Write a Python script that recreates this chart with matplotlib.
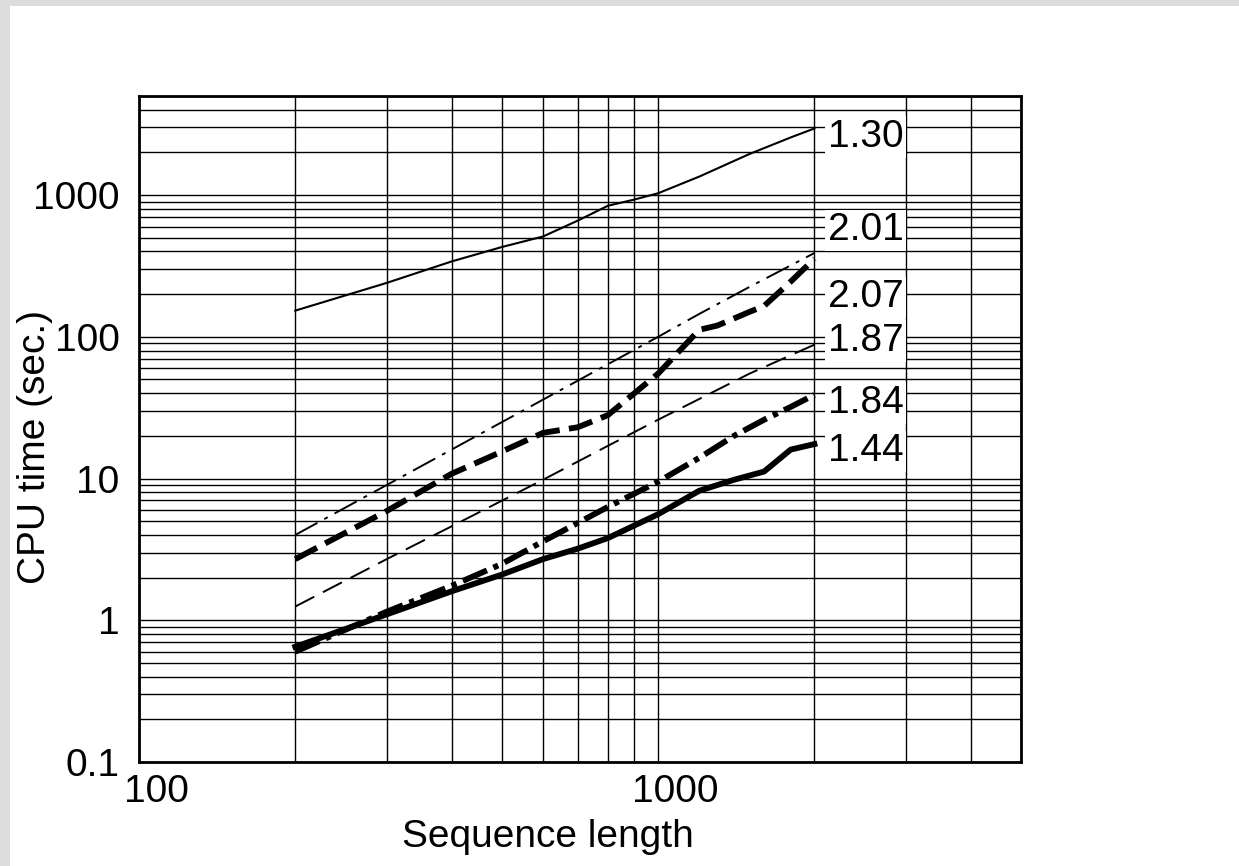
import matplotlib
matplotlib.use("Agg")
import matplotlib.pyplot as plt
from matplotlib.patches import Rectangle
from matplotlib.transforms import ScaledTranslation

plt.rcParams['font.family'] = ['Liberation Sans', 'DejaVu Sans']

# series (sequence length -> CPU time in sec.)
x_130 = [200, 300, 400, 500, 600, 700, 800, 900, 1000, 1200, 1500, 1800, 2000]
y_130 = [153, 240, 340, 430, 510, 660, 840, 930, 1030, 1350, 1950, 2550, 2950]

x_201 = [200, 300, 400, 600, 800, 1000, 1200, 1500, 2000]
y_201 = [4.0, 9.0, 16, 36, 64, 100, 145, 225, 390]

x_207 = [200, 300, 400, 500, 600, 700, 800, 1000, 1200, 1300, 1500, 1600, 1800, 2000]
y_207 = [2.7, 5.9, 10.8, 15.5, 21, 23, 28, 55, 112, 120, 150, 165, 245, 355]

x_187 = [200, 300, 400, 600, 800, 1000, 1500, 2000]
y_187 = [1.25, 2.7, 4.6, 9.8, 17, 26, 55, 88]

x_184 = [200, 300, 400, 500, 600, 800, 1000, 1200, 1400, 1600, 1800, 2000]
y_184 = [0.6, 1.15, 1.75, 2.5, 3.6, 6.3, 9.5, 14, 20, 26, 32, 39]

x_144 = [200, 300, 400, 500, 600, 700, 800, 1000, 1200, 1400, 1600, 1800, 2000]
y_144 = [0.65, 1.1, 1.6, 2.1, 2.7, 3.2, 3.8, 5.6, 8.2, 9.8, 11.2, 16, 17.5]

slopes = ["1.30", "2.01", "2.07", "1.87", "1.84", "1.44"]
label_y = [2190, 480, 161, 79.6, 28.9, 13.2]   # baselines of slope labels

x_ticks = [100, 1000]
x_ticklabels = ["100", "1000"]
y_ticks = [0.1, 1, 10, 100, 1000]
y_ticklabels = ["0.1", "1", "10", "100", "1000"]

fig = plt.figure(figsize=(12.39, 8.66), dpi=100, facecolor='#dcdcdc')
fig.add_artist(Rectangle((10 / 1239, 0), 1, (866 - 6) / 866, transform=fig.transFigure,
                         facecolor='white', edgecolor='none', zorder=-10))

ax = fig.add_axes([139 / 1239, 104 / 866, 882 / 1239, 666 / 866])
ax.set_xscale('log')
ax.set_yscale('log')
ax.set_xlim(100, 5000)
ax.set_ylim(0.1, 5000)

ax.grid(True, which='both', color='black', lw=1.0)
ax.set_axisbelow(True)

ax.plot(x_130, y_130, color='black', lw=1.5, solid_joinstyle='round')
ax.plot(x_201, y_201, color='black', lw=1.4, linestyle=(0, (13, 4, 2, 4)))
ax.plot(x_207, y_207, color='black', lw=4.2, linestyle=(0, (4.2, 1.6)))
ax.plot(x_187, y_187, color='black', lw=1.4, linestyle=(0, (11, 5)))
ax.plot(x_184, y_184, color='black', lw=4.2, linestyle=(0, (4.5, 1.2, 0.9, 1.2)))
ax.plot(x_144, y_144, color='black', lw=4.2, solid_joinstyle='round')

for s, yy in zip(slopes, label_y):
    ax.text(2120, yy, s, fontsize=28, ha='left', va='baseline', zorder=5,
            bbox=dict(facecolor='white', edgecolor='none', pad=2))

for sp in ax.spines.values():
    sp.set_linewidth(2.0)

ax.set_xticks(x_ticks)
ax.set_xticklabels(x_ticklabels)
ax.set_yticks(y_ticks)
ax.set_yticklabels(y_ticklabels)
ax.tick_params(which='both', length=0)
ax.tick_params(axis='x', labelsize=28, pad=9)
ax.tick_params(axis='y', labelsize=28, pad=14)
ax.minorticks_on()
ax.tick_params(which='minor', length=0, labelbottom=False, labelleft=False)

shift = ScaledTranslation(17 / 100, 0, fig.dpi_scale_trans)
for lab in ax.get_xticklabels():
    lab.set_transform(lab.get_transform() + shift)

ax.set_xlabel("Sequence length", fontsize=28)
ax.set_ylabel("CPU time (sec.)", fontsize=28)
ax.xaxis.set_label_coords(0.464, -0.085)
ax.yaxis.set_label_coords(-0.098, 0.473)

fig.savefig("out.png", dpi=100, facecolor=fig.get_facecolor())
